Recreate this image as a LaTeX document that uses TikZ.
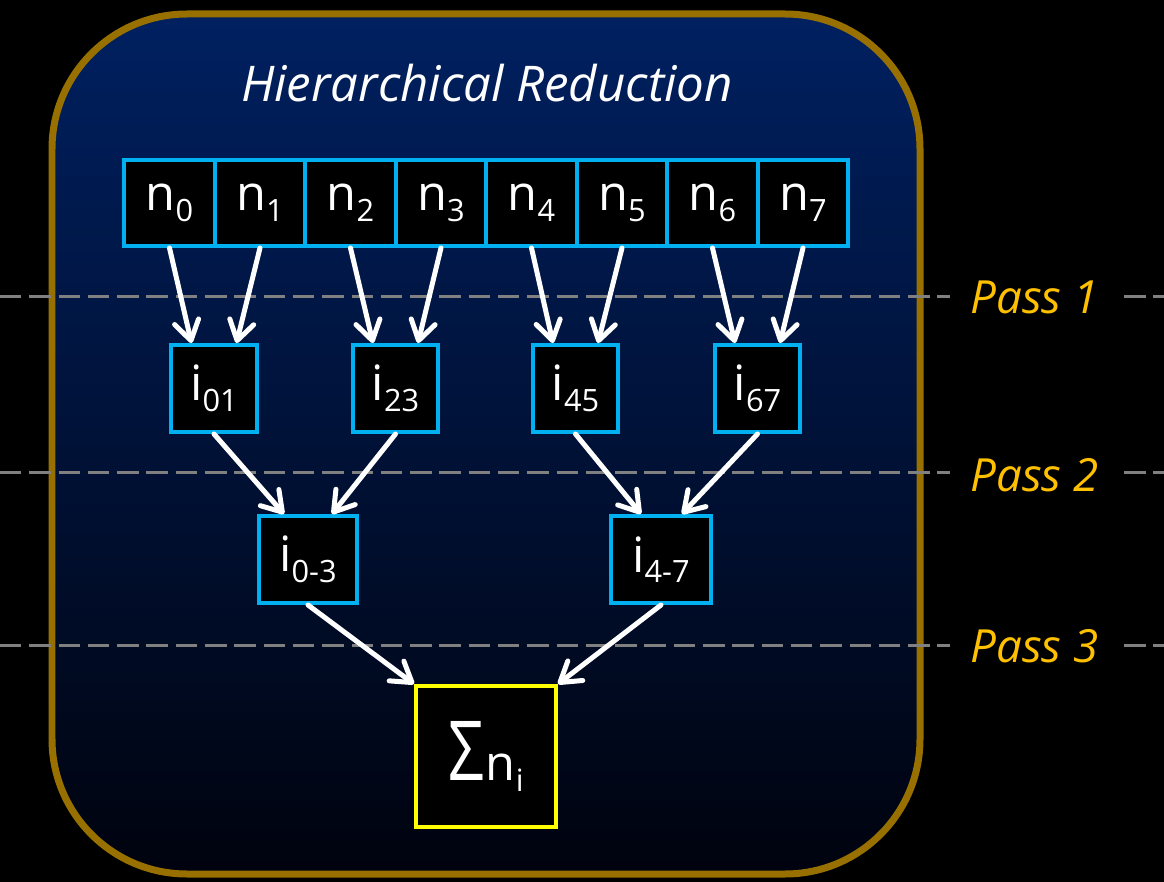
\documentclass[tikz,border=0pt]{standalone}
\usepackage{fontspec}
\usepackage{graphicx}
\setmainfont{Open Sans}
\usetikzlibrary{arrows.meta}
\definecolor{navytop}{RGB}{0,32,96}
\definecolor{navymid}{RGB}{0,16,56}
\definecolor{navybot}{RGB}{0,3,14}
\definecolor{goldb}{RGB}{152,112,0}
\definecolor{cyanb}{RGB}{0,176,240}
\definecolor{yellowb}{RGB}{255,255,0}
\definecolor{passorange}{RGB}{255,192,0}
\definecolor{dashgray}{RGB}{128,128,128}
\newcommand{\subt}[1]{\raisebox{-0.22em}{\fontsize{17.5}{18}\selectfont #1}}
\newcommand{\nodefont}{\fontsize{27.7}{30}\selectfont}
\begin{document}
\begin{tikzpicture}[x=0.02cm,y=-0.02cm,
  cell/.style={draw=cyanb, line width=0.08cm, fill=black, text=white, inner sep=0pt, font=\nodefont, minimum height=1.72cm},
  topcell/.style={cell, minimum width=1.81cm},
  midcell/.style={cell, minimum width=1.72cm, minimum height=1.74cm},
  lowcell/.style={cell, minimum height=1.74cm},
  sumcell/.style={cell, draw=yellowb, minimum width=2.8cm, minimum height=2.82cm},
  arr/.style={draw=white, line width=0.1cm, line cap=round, -{Straight Barb[length=11pt,width=14pt,round]}},
  passline/.style={draw=dashgray, line width=0.06cm, dash pattern=on 0.43cm off 0.156cm},
  passlabel/.style={anchor=base west, text=passorange, font=\fontsize{26}{28}\selectfont\itshape, inner sep=0pt},
]
\fill[black] (0,0) rectangle (1164,882);
\useasboundingbox (0,0) rectangle (1164,882);
% outer panel
\shade[top color=navytop, middle color=navymid, bottom color=navybot, rounded corners=2.7cm] (52,14) rectangle (920,874);
\draw[goldb, line width=0.14cm, rounded corners=2.7cm] (52,14) rectangle (920,874);
% title
\node[anchor=base, text=white, font=\fontsize{28}{30}\selectfont\itshape, inner sep=0pt] (title) at (487,102) {Hierarchical Reduction};
% pass lines
\coordinate (p1a) at (0,296); \coordinate (p1b) at (950,296);
\coordinate (p1c) at (1124,296); \coordinate (p1d) at (1164,296);
\coordinate (p2a) at (0,472); \coordinate (p2b) at (950,472);
\coordinate (p2c) at (1124,472); \coordinate (p2d) at (1164,472);
\coordinate (p3a) at (0,645); \coordinate (p3b) at (950,645);
\coordinate (p3c) at (1124,645); \coordinate (p3d) at (1164,645);
\draw[passline] (p1a) -- (p1b); \draw[passline] (p1c) -- (p1d);
\draw[passline] (p2a) -- (p2b); \draw[passline] (p2c) -- (p2d);
\draw[passline] (p3a) -- (p3b); \draw[passline] (p3c) -- (p3d);
\node[passlabel] (pass1) at (970,314) {Pass 1};
\node[passlabel] (pass2) at (970,491) {Pass 2};
\node[passlabel] (pass3) at (970,662) {Pass 3};
% top row
\node[topcell] (n0) at (169.5,203) {n\subt{0}};
\node[topcell] (n1) at (260,203) {n\subt{1}};
\node[topcell] (n2) at (350.5,203) {n\subt{2}};
\node[topcell] (n3) at (441,203) {n\subt{3}};
\node[topcell] (n4) at (531.5,203) {n\subt{4}};
\node[topcell] (n5) at (622,203) {n\subt{5}};
\node[topcell] (n6) at (712.5,203) {n\subt{6}};
\node[topcell] (n7) at (803,203) {n\subt{7}};
% second row
\node[midcell] (i01) at (214,388.5) {i\subt{01}};
\node[midcell] (i23) at (395.5,388.5) {i\subt{23}};
\node[midcell] (i45) at (575.5,388.5) {i\subt{45}};
\node[midcell] (i67) at (757.5,388.5) {i\subt{67}};
% third row
\node[lowcell, minimum width=1.96cm] (i03) at (308,559.5) {i\subt{0-3}};
\node[lowcell, minimum width=2.0cm] (i47) at (661,559.5) {i\subt{4-7}};
% sum
\node[sumcell] (sum) at (486,756.5) {\scalebox{1.3}[1.7]{Σ}\kern1pt n\subt{i}};
% arrows pass 1
\draw[arr] (n0.south) -- ([xshift=-0.45cm]i01.north);
\draw[arr] (n1.south) -- ([xshift=0.45cm]i01.north);
\draw[arr] (n2.south) -- ([xshift=-0.45cm]i23.north);
\draw[arr] (n3.south) -- ([xshift=0.45cm]i23.north);
\draw[arr] (n4.south) -- ([xshift=-0.45cm]i45.north);
\draw[arr] (n5.south) -- ([xshift=0.45cm]i45.north);
\draw[arr] (n6.south) -- ([xshift=-0.45cm]i67.north);
\draw[arr] (n7.south) -- ([xshift=0.45cm]i67.north);
% arrows pass 2
\draw[arr] (i01.south) -- ([xshift=-0.48cm]i03.north);
\draw[arr] (i23.south) -- ([xshift=0.48cm]i03.north);
\draw[arr] (i45.south) -- ([xshift=-0.4cm]i47.north);
\draw[arr] (i67.south) -- ([xshift=0.42cm]i47.north);
% arrows pass 3
\draw[arr] (i03.south) -- (sum.north west);
\draw[arr] (i47.south) -- (sum.north east);
\end{tikzpicture}
\end{document}
